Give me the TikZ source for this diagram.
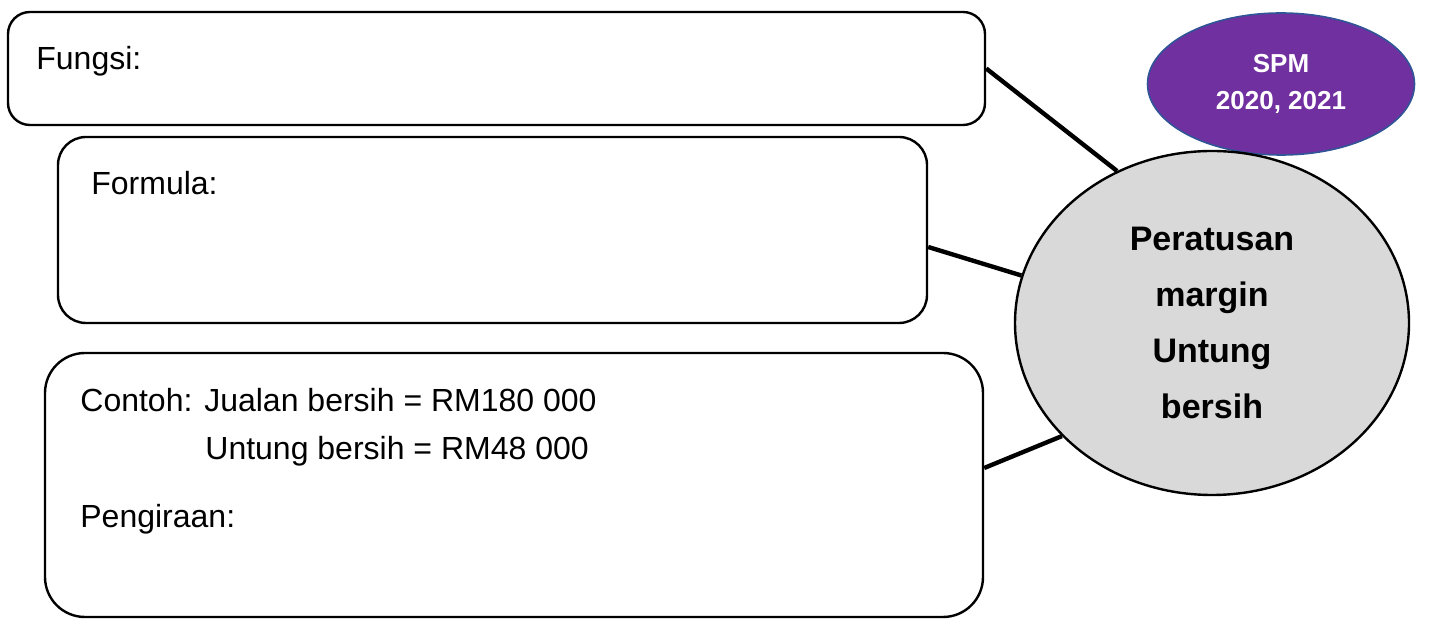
\documentclass[tikz,border=0pt]{standalone}
\usepackage{fontspec}
\setmainfont{Liberation Sans}
\usetikzlibrary{shapes.geometric}
\definecolor{spmpurple}{HTML}{7030A0}
\definecolor{spmedge}{HTML}{2F5597}
\definecolor{hubgray}{HTML}{D9D9D9}
\tikzset{
  box/.style={draw, line width=1.2pt, rectangle, inner sep=0pt},
  txt/.style={inner sep=0pt, anchor=base west, font=\fontsize{16}{19}\selectfont},
  hub/.style={draw, ellipse, fill=hubgray, line width=1.2pt, inner sep=0pt, align=center, font=\bfseries\fontsize{17}{28}\selectfont},
  tag/.style={draw=spmedge, ellipse, fill=spmpurple, line width=0.8pt, inner sep=0pt, align=center, text=white, font=\bfseries\fontsize{13}{18.5}\selectfont},
  link/.style={line width=2.2pt},
}

\begin{document}
\begin{tikzpicture}[x=0.5pt, y=-0.5pt]
  \useasboundingbox (0,0) rectangle (1429,619);
  % the three boxes on the left
  \node[box, rounded corners=11pt, minimum width=488.5pt, minimum height=56.5pt] (fungsi) at (496.5,68.5) {};
  \node[box, rounded corners=14pt, minimum width=434.5pt, minimum height=93pt] (formula) at (492.5,230) {};
  \node[box, rounded corners=20pt, minimum width=469pt, minimum height=132pt] (contoh) at (514,485) {};
  \node[txt] (tfungsi) at (36,70) {Fungsi:};
  \node[txt] (tformula) at (91,195) {Formula:};
  \node[txt] (tcontoh) at (80,412) {Contoh: Jualan bersih = RM180 000};
  \node[txt] (tuntung) at (205,460) {Untung bersih = RM48 000};
  \node[txt] (tkira) at (80,528) {Pengiraan:};
  % the two ellipses
  \node[tag, minimum width=133.5pt, minimum height=71pt] (spm) at (1281,84) {SPM\\2020, 2021};
  \node[hub, minimum width=197pt, minimum height=172pt] (hub) at (1212,323) {Peratusan\\margin\\Untung\\bersih};
  \draw[link] (fungsi.east) -- (hub.122);
  \draw[link] ([yshift=-8.5pt]formula.east) -- (hub.166);
  \draw[link] ([yshift=8.5pt]contoh.east) -- (hub.217);
\end{tikzpicture}
\end{document}
